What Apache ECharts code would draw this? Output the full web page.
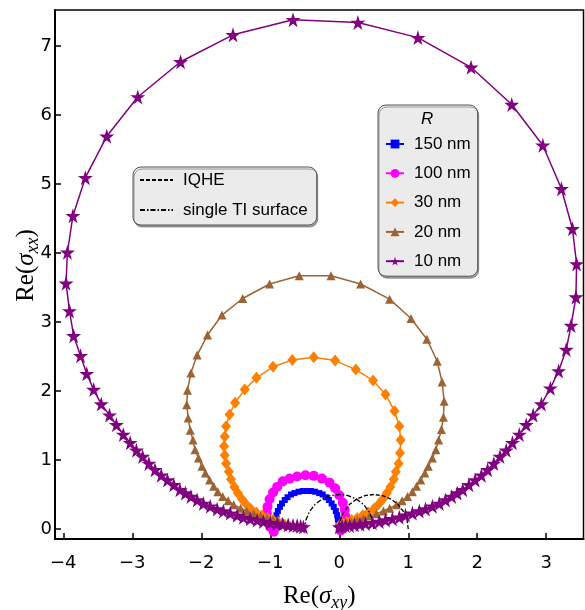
<!DOCTYPE html>
<html>
<head>
<meta charset="utf-8">
<script src="https://cdn.jsdelivr.net/npm/echarts@6/dist/echarts.min.js"></script>
<style>
  html, body { margin: 0; padding: 0; background: #fff; }
  #chart { width: 585px; height: 610px; }
</style>
</head>
<body>
<div id="chart"></div>
<script>
// points, [Re(sigma_xy), Re(sigma_xx)]
const r150 = [
  [0.00, 0.02], [-0.01, 0.08], [-0.02, 0.14], [-0.03, 0.20], [-0.05, 0.26], [-0.08, 0.32],
  [-0.11, 0.37], [-0.15, 0.42], [-0.19, 0.46], [-0.24, 0.50], [-0.29, 0.52], [-0.35, 0.54],
  [-0.41, 0.55], [-0.47, 0.55], [-0.53, 0.55], [-0.59, 0.54], [-0.65, 0.52], [-0.70, 0.50],
  [-0.75, 0.46], [-0.79, 0.42], [-0.83, 0.37], [-0.86, 0.32], [-0.89, 0.26], [-0.91, 0.20],
  [-0.92, 0.14], [-0.92, 0.08], [-0.92, 0.03]
];
const r100 = [
  [0.02, -0.02], [0.05, 0.04], [0.08, 0.11], [0.09, 0.18], [0.08, 0.28], [0.05, 0.38],
  [0.00, 0.49], [-0.06, 0.59], [-0.14, 0.67], [-0.25, 0.73], [-0.37, 0.77], [-0.49, 0.78],
  [-0.61, 0.76], [-0.72, 0.73], [-0.82, 0.69], [-0.90, 0.61], [-0.96, 0.53], [-1.01, 0.43],
  [-1.04, 0.32], [-1.05, 0.23], [-1.04, 0.13], [-1.00, 0.03], [-0.95, -0.04]
];
const r30 = [
  [0.01, 0.06], [0.05, 0.08], [0.11, 0.10], [0.18, 0.13], [0.26, 0.16], [0.34, 0.20],
  [0.42, 0.24], [0.50, 0.29], [0.57, 0.36], [0.63, 0.43], [0.69, 0.52], [0.74, 0.61],
  [0.79, 0.72], [0.82, 0.83], [0.86, 0.95], [0.88, 1.10], [0.89, 1.29], [0.87, 1.49],
  [0.80, 1.71], [0.67, 1.95], [0.49, 2.15], [0.24, 2.31], [-0.06, 2.44], [-0.37, 2.49],
  [-0.68, 2.45], [-0.96, 2.35], [-1.20, 2.19], [-1.37, 2.02], [-1.51, 1.83], [-1.59, 1.66],
  [-1.64, 1.49], [-1.66, 1.34], [-1.67, 1.20], [-1.66, 1.07], [-1.64, 0.95], [-1.60, 0.83],
  [-1.57, 0.72], [-1.52, 0.61], [-1.47, 0.52], [-1.41, 0.43], [-1.35, 0.36], [-1.28, 0.29],
  [-1.20, 0.24], [-1.12, 0.20], [-1.04, 0.16], [-0.96, 0.13], [-0.89, 0.10], [-0.83, 0.08],
  [-0.79, 0.06]
];
const r20 = [
  [0.01, 0.05], [0.05, 0.06], [0.11, 0.08], [0.18, 0.10], [0.26, 0.13], [0.35, 0.16],
  [0.44, 0.19], [0.54, 0.22], [0.64, 0.26], [0.73, 0.30], [0.83, 0.35], [0.91, 0.41],
  [0.99, 0.47], [1.06, 0.54], [1.12, 0.62], [1.18, 0.71], [1.24, 0.81], [1.29, 0.91],
  [1.35, 1.03], [1.40, 1.15], [1.44, 1.29], [1.48, 1.44], [1.51, 1.62], [1.52, 1.85],
  [1.49, 2.13], [1.42, 2.43], [1.27, 2.75], [1.04, 3.05], [0.73, 3.33], [0.31, 3.55],
  [-0.12, 3.67], [-0.58, 3.67], [-1.01, 3.55], [-1.40, 3.34], [-1.70, 3.10], [-1.91, 2.81],
  [-2.06, 2.52], [-2.15, 2.26], [-2.20, 2.01], [-2.21, 1.80], [-2.19, 1.61], [-2.16, 1.43],
  [-2.12, 1.29], [-2.09, 1.15], [-2.04, 1.03], [-1.99, 0.91], [-1.94, 0.81], [-1.88, 0.71],
  [-1.82, 0.62], [-1.76, 0.54], [-1.69, 0.47], [-1.61, 0.41], [-1.53, 0.35], [-1.43, 0.30],
  [-1.34, 0.26], [-1.24, 0.22], [-1.14, 0.19], [-1.05, 0.16], [-0.96, 0.13], [-0.88, 0.10],
  [-0.81, 0.08], [-0.75, 0.06], [-0.71, 0.05]
];
const r10 = [
  [0.00, 0.03], [0.04, 0.04], [0.09, 0.05], [0.15, 0.05], [0.22, 0.06], [0.30, 0.07],
  [0.38, 0.08], [0.48, 0.09], [0.58, 0.11], [0.67, 0.13], [0.77, 0.15], [0.87, 0.17],
  [0.96, 0.20], [1.06, 0.23], [1.16, 0.26], [1.25, 0.29], [1.35, 0.33], [1.45, 0.37],
  [1.54, 0.42], [1.63, 0.47], [1.71, 0.52], [1.79, 0.57], [1.88, 0.64], [1.97, 0.71],
  [2.06, 0.78], [2.15, 0.86], [2.24, 0.95], [2.33, 1.05], [2.42, 1.14], [2.51, 1.25],
  [2.61, 1.37], [2.71, 1.51], [2.81, 1.65], [2.93, 1.81], [3.06, 2.04], [3.18, 2.29],
  [3.29, 2.60], [3.36, 2.95], [3.43, 3.36], [3.44, 3.84], [3.38, 4.35], [3.22, 4.93],
  [2.95, 5.56], [2.50, 6.15], [1.91, 6.69], [1.14, 7.12], [0.27, 7.34], [-0.67, 7.38],
  [-1.54, 7.16], [-2.30, 6.77], [-2.92, 6.26], [-3.37, 5.69], [-3.68, 5.09], [-3.86, 4.54],
  [-3.94, 4.01], [-3.96, 3.56], [-3.91, 3.16], [-3.85, 2.80], [-3.75, 2.51], [-3.66, 2.25],
  [-3.56, 2.02], [-3.45, 1.81], [-3.33, 1.65], [-3.23, 1.51], [-3.13, 1.37], [-3.03, 1.25],
  [-2.94, 1.14], [-2.85, 1.05], [-2.76, 0.95], [-2.67, 0.86], [-2.58, 0.78], [-2.49, 0.71],
  [-2.40, 0.64], [-2.31, 0.57], [-2.23, 0.52], [-2.15, 0.47], [-2.06, 0.42], [-1.97, 0.37],
  [-1.87, 0.33], [-1.77, 0.29], [-1.68, 0.26], [-1.58, 0.23], [-1.48, 0.20], [-1.39, 0.17],
  [-1.29, 0.15], [-1.19, 0.13], [-1.10, 0.11], [-1.00, 0.09], [-0.90, 0.08], [-0.82, 0.07],
  [-0.74, 0.06], [-0.67, 0.05], [-0.61, 0.05], [-0.56, 0.04], [-0.52, 0.03]
];
const iqhe = [
  [1.0, 0], [0.983, 0.129], [0.933, 0.25], [0.854, 0.354], [0.75, 0.433], [0.629, 0.483],
  [0.5, 0.5], [0.371, 0.483], [0.25, 0.433], [0.146, 0.354], [0.067, 0.25], [0.017, 0.129], [0, 0]
];
const tiSurface = [
  [0.5, 0], [0.483, 0.129], [0.433, 0.25], [0.354, 0.354], [0.25, 0.433], [0.129, 0.483],
  [0, 0.5], [-0.129, 0.483], [-0.25, 0.433], [-0.354, 0.354], [-0.433, 0.25], [-0.483, 0.129], [-0.5, 0]
];
const xTicks = [-4, -3, -2, -1, 0, 1, 2, 3];
const yTicks = [0, 1, 2, 3, 4, 5, 6, 7];

const chart = echarts.init(document.getElementById('chart'));

const sans = 'Liberation Sans';
const tickFont = 'DejaVu Sans';
const serif = 'Liberation Serif';
const starPath = 'path://M50,0 L61,35 L98,35 L68,57 L79,91 L50,70 L21,91 L32,57 L2,35 L39,35 Z';

function minus(v) { return String(v).replace('-', '\u2212'); }

const nameRich = {
  n: { fontFamily: serif, fontSize: 25, color: '#000', lineHeight: 26, verticalAlign: 'top' },
  s: { fontFamily: serif, fontSize: 25, fontStyle: 'italic', color: '#000', lineHeight: 26, verticalAlign: 'top' },
  b: { fontFamily: serif, fontSize: 18, fontStyle: 'italic', color: '#000', lineHeight: 18, padding: [10, 0, 0, 0], verticalAlign: 'top' }
};

function curve(name, data, color, symbol, size, z) {
  return {
    name: name, type: 'line', data: data, z: z,
    symbol: symbol, symbolSize: size, showSymbol: true,
    lineStyle: { color: color, width: 1.5 },
    itemStyle: { color: color },
    emphasis: { disabled: true }
  };
}

const legendBox = {
  orient: 'vertical',
  backgroundColor: '#ebebeb', borderColor: '#555', borderWidth: 1, borderRadius: 8,
  shadowColor: 'rgba(0,0,0,0.35)', shadowOffsetX: 1, shadowOffsetY: 2,
  selectedMode: false,
  textStyle: { fontFamily: sans, fontSize: 17, lineHeight: 18, color: '#000', padding: [0, 0, 0, 5] }
};

const option = {
  animation: false,
  backgroundColor: '#fff',
  grid: {
    left: 55, right: 1.5, top: 10, bottom: 71, outerBoundsMode: 'none',
    show: true, borderColor: '#000', borderWidth: 1.5
  },
  xAxis: {
    type: 'value', min: -4.12, max: 3.54,
    name: '{n|Re(}{s|σ}{b|xy}{n|)}', nameLocation: 'middle', nameGap: 45, nameMoveOverlap: false,
    nameTextStyle: { rich: nameRich },
    axisLine: { onZero: false, lineStyle: { color: '#000', width: 2 } },
    axisTick: { inside: true, length: 6, lineStyle: { width: 1.5, color: '#000' }, customValues: xTicks },
    axisLabel: { customValues: xTicks, formatter: minus, color: '#000', fontFamily: tickFont, fontSize: 18, margin: 15 },
    splitLine: { show: false }
  },
  yAxis: {
    type: 'value', min: -0.145, max: 7.52,
    name: '{n|Re(}{s|σ}{b|xx}{n|)}', nameLocation: 'middle', nameGap: 15, nameRotate: 90, nameMoveOverlap: false,
    nameTextStyle: { rich: nameRich, padding: [0, 0, 0, 18] },
    axisLine: { onZero: false, lineStyle: { color: '#000', width: 2 } },
    axisTick: { inside: true, length: 6, lineStyle: { width: 1.5, color: '#000' }, customValues: yTicks },
    axisLabel: { customValues: yTicks, formatter: minus, color: '#000', fontFamily: tickFont, fontSize: 18, margin: 3 },
    splitLine: { show: false }
  },
  legend: [
    Object.assign({}, legendBox, {
      left: 133, top: 167,
      data: ['IQHE', 'single TI surface'],
      itemWidth: 33, itemHeight: 11, itemGap: 12,
      padding: [4, 9, 6, 6],
      itemStyle: { opacity: 0 }
    }),
    Object.assign({}, legendBox, {
      left: 378, top: 105,
      data: ['150 nm', '100 nm', '30 nm', '20 nm', '10 nm'],
      itemWidth: 18, itemHeight: 11, itemGap: 11.3,
      padding: [30, 7, 6, 7]
    })
  ],
  graphic: [{
    type: 'text', left: 421, top: 111, z: 100,
    style: { text: 'R', fontFamily: sans, fontSize: 17, fontStyle: 'italic', fill: '#000' }
  }],
  series: [
    {
      name: 'IQHE', type: 'line', data: iqhe, z: 3, symbol: 'none', showSymbol: false,
      lineStyle: { color: '#000', width: 1.3, type: [4, 2] }, itemStyle: { color: '#000' },
      emphasis: { disabled: true }
    },
    {
      name: 'single TI surface', type: 'line', data: tiSurface, z: 3, symbol: 'none', showSymbol: false,
      lineStyle: { color: '#000', width: 1.3, type: [5, 2, 1.5, 2] }, itemStyle: { color: '#000' },
      emphasis: { disabled: true }
    },
    curve('150 nm', r150, '#0000ff', 'rect', 6, 2),
    curve('100 nm', r100, '#ff00ff', 'circle', 10, 2),
    curve('30 nm', r30, '#ff8000', 'diamond', [10, 12], 2),
    curve('20 nm', r20, '#9c6434', 'triangle', 9, 2),
    curve('10 nm', r10, '#800080', starPath, 15, 4)
  ]
};

chart.setOption(option);
</script>
</body>
</html>
